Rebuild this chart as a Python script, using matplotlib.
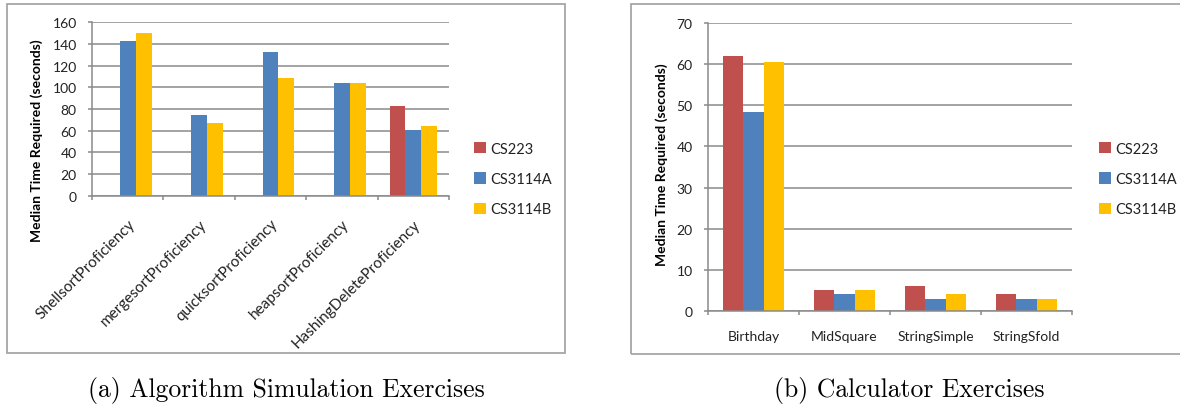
import numpy as np
import matplotlib
matplotlib.use("Agg")
import matplotlib.pyplot as plt
from matplotlib.patches import Rectangle

# data
series = ["CS223", "CS3114A", "CS3114B"]
colors = ["#C0504D", "#4F81BD", "#FFC000"]

algo_cats = ["ShellsortProficiency", "mergesortProficiency", "quicksortProficiency",
             "heapsortProficiency", "HashingDeleteProficiency"]
algo_cs223 = [np.nan, np.nan, np.nan, np.nan, 82.5]
algo_cs3114a = [142.5, 74.5, 132.3, 104.3, 60.3]
algo_cs3114b = [150.5, 67.4, 108.9, 104.3, 64.0]
algo_yticks = [0, 20, 40, 60, 80, 100, 120, 140, 160]

calc_cats = ["Birthday", "MidSquare", "StringSimple", "StringSfold"]
calc_cs223 = [62.0, 5.0, 6.0, 4.1]
calc_cs3114a = [48.4, 4.1, 2.9, 2.9]
calc_cs3114b = [60.6, 5.0, 4.1, 2.9]
calc_yticks = [0, 10, 20, 30, 40, 50, 60, 70]

ylabel = "Median Time Required (seconds)"
captions = ["(a) Algorithm Simulation Exercises", "(b) Calculator Exercises"]

W, H = 1180, 406
sans = "Lato"
grey = "#8a8a8a"


def px(x0, y0, x1, y1):
    # pixel box (top-left origin) -> figure fraction rect
    return [x0 / W, 1 - y1 / H, (x1 - x0) / W, (y1 - y0) / H]


def draw(ax, cats, vals, yticks):
    n = len(cats)
    x = np.arange(n)
    w = 1 / 4.5
    for i, v in enumerate(vals):
        ax.bar(x + (i - 1) * w, v, w, color=colors[i], label=series[i], linewidth=0)
    ax.set_xlim(-0.5, n - 0.5)
    ax.set_ylim(yticks[0], yticks[-1])
    ax.set_yticks(yticks)
    ax.set_xticks(x)
    ax.set_xticks(np.arange(n + 1) - 0.5, minor=True)
    ax.yaxis.grid(True, color=grey, linewidth=1.1)
    ax.set_axisbelow(True)
    for s in ["top", "right"]:
        ax.spines[s].set_visible(False)
    for s in ["left", "bottom"]:
        ax.spines[s].set_color(grey)
        ax.spines[s].set_linewidth(1.1)
    ax.tick_params(axis="y", length=3, width=1.1, color=grey, pad=8, labelsize=10)
    ax.tick_params(axis="x", which="major", length=0)
    ax.tick_params(axis="x", which="minor", length=3, width=1.1, color=grey)
    for t in ax.get_yticklabels():
        t.set_fontfamily(sans)
        t.set_color("#222222")


fig = plt.figure(figsize=(W / 100, H / 100), dpi=100)

# frames round each chart
fig.add_artist(Rectangle((7 / W, 1 - 354 / H), 558 / W, 349 / H, transform=fig.transFigure,
                         fill=False, edgecolor="#a6a6a6", linewidth=1.3))
fig.add_artist(Rectangle((631 / W, 1 - 355 / H), 560 / W, 350 / H, transform=fig.transFigure,
                         fill=False, edgecolor="#a6a6a6", linewidth=1.3))

ax1 = fig.add_axes(px(92, 23.3, 449, 196.7))
draw(ax1, algo_cats, [algo_cs223, algo_cs3114a, algo_cs3114b], algo_yticks)
ax1.set_xticklabels(algo_cats, rotation=45, ha="right", va="top", rotation_mode="anchor",
                    fontsize=11, fontfamily=sans, color="#222222")
ax1.tick_params(axis="x", which="major", pad=15)

ax2 = fig.add_axes(px(708, 24, 1072, 312))
draw(ax2, calc_cats, [calc_cs223, calc_cs3114a, calc_cs3114b], calc_yticks)
ax2.set_xticklabels(calc_cats, fontsize=10, fontfamily=sans, color="#222222")
ax2.tick_params(axis="x", which="major", pad=14)

for ax, lx in [(ax1, 474), (ax2, 1099)]:
    leg = ax.legend(loc="center left", bbox_to_anchor=(lx / W, 1 - 180 / H),
                    bbox_transform=fig.transFigure, frameon=False, borderpad=0,
                    handlelength=0.8, handleheight=0.8, handletextpad=0.3,
                    labelspacing=1.12, borderaxespad=0,
                    prop={"family": sans, "size": 10.5})
    for t in leg.get_texts():
        t.set_color("#222222")

fig.text(37 / W, 1 - 141 / H, ylabel, rotation=90, ha="center", va="center",
         fontfamily=sans, fontweight="bold", fontsize=10)
fig.text(662 / W, 1 - 165 / H, ylabel, rotation=90, ha="center", va="center",
         fontfamily=sans, fontweight="bold", fontsize=10)

fig.text(286 / W, 1 - 397.5 / H, captions[0], ha="center", va="baseline",
         fontfamily="cmr10", fontsize=18.5)
fig.text(909.5 / W, 1 - 397.5 / H, captions[1], ha="center", va="baseline",
         fontfamily="cmr10", fontsize=18.5)

fig.savefig("out.png", dpi=100)
